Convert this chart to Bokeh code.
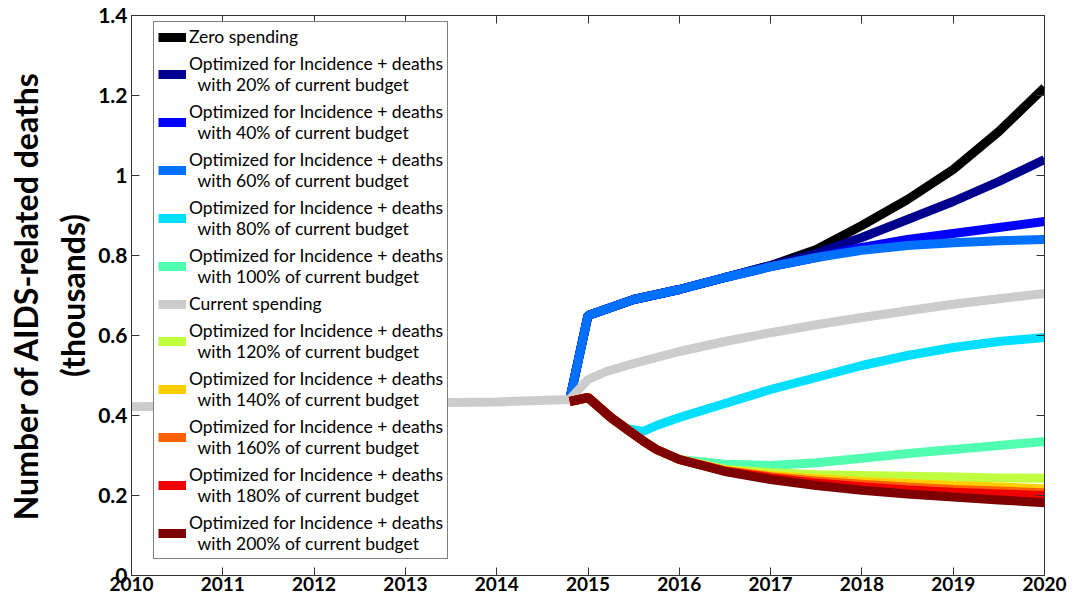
from bokeh.plotting import figure
from bokeh.models import Range1d, FixedTicker, LinearAxis, Legend, LegendItem
from bokeh.embed import file_html
from bokeh.resources import INLINE

# ---------------- data ----------------
x_ticks = [2010, 2011, 2012, 2013, 2014, 2015, 2016, 2017, 2018, 2019, 2020]
y_ticks = [0, 0.2, 0.4, 0.6, 0.8, 1.0, 1.2, 1.4]
y_tick_labels = ["0", "0.2", "0.4", "0.6", "0.8", "1", "1.2", "1.4"]

# current spending (whole period)
cur_years = [2010, 2011, 2012, 2013, 2014, 2014.8, 2014.9, 2015, 2015.2, 2015.5,
             2016, 2016.5, 2017, 2017.5, 2018, 2018.5, 2019, 2019.5, 2020]
cur_vals = [0.422, 0.425, 0.428, 0.431, 0.434, 0.44, 0.465, 0.49, 0.51, 0.53,
            0.56, 0.585, 0.607, 0.627, 0.645, 0.662, 0.678, 0.692, 0.705]

# upper group (zero spending, 20-60 % budgets)
hi_years = [2014.8, 2015, 2015.25, 2015.5, 2016, 2016.5, 2017, 2017.5, 2018, 2018.5, 2019, 2019.5, 2020]
zero_vals = [0.44, 0.65, 0.67, 0.69, 0.715, 0.745, 0.775, 0.815, 0.875, 0.94, 1.015, 1.11, 1.22]
b20_vals = [0.44, 0.65, 0.67, 0.69, 0.715, 0.745, 0.775, 0.805, 0.845, 0.89, 0.935, 0.985, 1.04]
b40_vals = [0.44, 0.65, 0.67, 0.69, 0.715, 0.745, 0.772, 0.795, 0.82, 0.84, 0.855, 0.87, 0.885]
b60_vals = [0.44, 0.65, 0.67, 0.69, 0.715, 0.745, 0.772, 0.795, 0.813, 0.825, 0.832, 0.837, 0.84]

# lower group (80-200 % budgets)
lo_years = [2014.8, 2015, 2015.25, 2015.43, 2015.6, 2015.75, 2016, 2016.5, 2017, 2017.5, 2018, 2018.5, 2019, 2019.5, 2020]
b80_vals = [0.435, 0.445, 0.395, 0.367, 0.36, 0.375, 0.395, 0.43, 0.465, 0.495, 0.525, 0.55, 0.57, 0.585, 0.595]
b100_vals = [0.435, 0.445, 0.395, 0.365, 0.337, 0.315, 0.29, 0.278, 0.275, 0.282, 0.293, 0.305, 0.315, 0.325, 0.335]
b120_vals = [0.435, 0.445, 0.395, 0.365, 0.337, 0.315, 0.29, 0.265, 0.257, 0.252, 0.25, 0.248, 0.246, 0.244, 0.243]
b140_vals = [0.435, 0.445, 0.395, 0.365, 0.337, 0.315, 0.29, 0.263, 0.25, 0.242, 0.235, 0.23, 0.225, 0.221, 0.217]
b160_vals = [0.435, 0.445, 0.395, 0.365, 0.337, 0.315, 0.29, 0.262, 0.247, 0.236, 0.228, 0.221, 0.215, 0.211, 0.207]
b180_vals = [0.435, 0.445, 0.395, 0.365, 0.337, 0.315, 0.29, 0.261, 0.244, 0.231, 0.222, 0.214, 0.208, 0.204, 0.2]
b200_vals = [0.435, 0.445, 0.395, 0.365, 0.337, 0.315, 0.29, 0.26, 0.24, 0.225, 0.213, 0.204, 0.196, 0.189, 0.182]

opt = "Optimized for Incidence + deaths\n\u00a0\u00a0with {}% of current budget"
series = [
    ("Zero spending", hi_years, zero_vals, "#000000"),
    (opt.format(20), hi_years, b20_vals, "#00008F"),
    (opt.format(40), hi_years, b40_vals, "#0000FF"),
    (opt.format(60), hi_years, b60_vals, "#0070FF"),
    (opt.format(80), lo_years, b80_vals, "#00DFFF"),
    (opt.format(100), lo_years, b100_vals, "#50FFAF"),
    ("Current spending", cur_years, cur_vals, "#CCCCCC"),
    (opt.format(120), lo_years, b120_vals, "#BFFF40"),
    (opt.format(140), lo_years, b140_vals, "#FFCF00"),
    (opt.format(160), lo_years, b160_vals, "#FF6000"),
    (opt.format(180), lo_years, b180_vals, "#EF0000"),
    (opt.format(200), lo_years, b200_vals, "#7F0000"),
]

# ---------------- figure ----------------
p = figure(frame_width=913, frame_height=560, output_backend="svg", toolbar_location=None,
           x_range=Range1d(2010, 2020), y_range=Range1d(0, 1.4),
           min_border_left=131, min_border_right=26, min_border_top=15, min_border_bottom=25)
p.grid.visible = False
p.outline_line_color = "#333333"
p.background_fill_color = "white"

axis_col = "#333333"
for ax in (p.xaxis[0], p.yaxis[0]):
    ax.major_tick_in = 8
    ax.major_tick_out = 0
    ax.minor_tick_line_color = None
    ax.axis_line_color = axis_col
    ax.major_tick_line_color = axis_col
    ax.major_label_text_font = "Lato"
    ax.major_label_text_font_style = "bold"
    ax.major_label_text_color = "black"

p.xaxis.ticker = FixedTicker(ticks=x_ticks)
p.xaxis.major_label_text_font_size = "19px"
p.xaxis.major_label_standoff = 1
p.xaxis.axis_label_standoff = 0

p.yaxis.ticker = FixedTicker(ticks=y_ticks)
p.yaxis.major_label_overrides = {t: s for t, s in zip(y_ticks, y_tick_labels)}
p.yaxis.major_label_text_font_size = "21px"
p.yaxis.major_label_standoff = 4
p.yaxis.axis_label = "Number of AIDS-related deaths\n(thousands)"
p.yaxis.axis_label_text_font = "Lato"
p.yaxis.axis_label_text_font_style = "bold"
p.yaxis.axis_label_text_font_size = "32px"
p.yaxis.axis_label_text_color = "black"
p.yaxis.axis_label_standoff = 3

# tick marks on the top and right edges (no labels)
extra = dict(major_label_text_color=None, major_label_text_font_size="1px",
             major_tick_in=8, major_tick_out=0, major_label_standoff=0, axis_label_standoff=0,
             minor_tick_line_color=None, axis_line_color=axis_col, major_tick_line_color=axis_col)
p.add_layout(LinearAxis(ticker=FixedTicker(ticks=y_ticks), **extra), "right")
p.add_layout(LinearAxis(ticker=FixedTicker(ticks=x_ticks), **extra), "above")

items = []
for label, xs, ys, col in series:
    r = p.line(xs, ys, line_color=col, line_width=9)
    items.append(LegendItem(label=label, renderers=[r]))

legend = Legend(items=items, location=(22, 16))
legend.label_text_font = "Lato"
legend.label_text_font_size = "17.5px"
legend.label_text_color = "black"
legend.glyph_width = 28
legend.glyph_height = 20
legend.label_height = 20
legend.label_standoff = 3
legend.spacing = 6
legend.padding = 4
legend.margin = 0
legend.border_line_color = "black"
legend.border_line_width = 1
legend.background_fill_alpha = 1
p.add_layout(legend)

open("out.html", "w").write(file_html(p, INLINE))
